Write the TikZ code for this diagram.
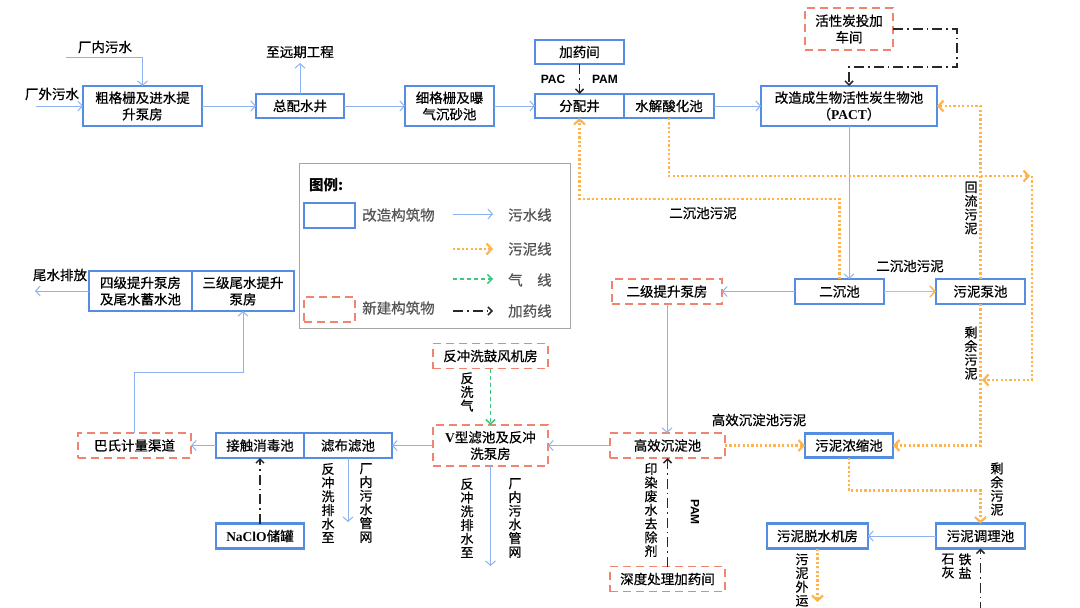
\documentclass[tikz,border=0pt]{standalone}
\usepackage{fontspec}
\setmainfont{Noto Sans CJK SC}[UprightFeatures={FakeBold=0.6}]
\newfontfamily\lat{Liberation Sans}
\newfontfamily\latserif{Liberation Serif}
\usetikzlibrary{arrows.meta}
\definecolor{bbl}{RGB}{84,141,226}
\definecolor{wblue}{RGB}{140,178,240}
\definecolor{sor}{RGB}{255,180,75}
\definecolor{nred}{RGB}{240,132,112}
\definecolor{gas}{RGB}{60,200,130}
\definecolor{dose}{RGB}{40,40,40}
\definecolor{legtxt}{RGB}{85,85,85}
\newcommand\bx{\fontsize{13.5}{16.5}\selectfont}
\newcommand\vx{\fontsize{13}{13.7}\selectfont}
\newcommand\lx{\fontsize{14.5}{16}\selectfont}
\tikzset{
 oldbox/.style={draw=bbl, line width=2.4pt, fill=white, inner sep=0pt, outer sep=0pt, align=center, font=\bx},
 newbox/.style={oldbox, draw=nred, line width=1.9pt, dash pattern=on 8pt off 5pt},
 lbl/.style={font=\bx, inner sep=0pt, align=center},
 vlbl/.style={font=\vx, inner sep=0pt, align=center},
 lgtx/.style={font=\lx, text=legtxt, inner sep=0pt, anchor=west},
 latb/.style={font={\lat\bfseries\fontsize{12}{14}\selectfont}, inner sep=0pt},
 warr/.style={draw=wblue, line width=1pt, -{Straight Barb[length=4.5pt,width=10pt]}},
 sline/.style={draw=sor, line width=2.2pt, dash pattern=on 2.2pt off 2.2pt},
 sarr/.style={sline, -{Straight Barb[length=5pt,width=11pt]}},
 ssolid/.style={draw=sor, line width=1.5pt, -{Straight Barb[length=5pt,width=11pt]}},
 gline/.style={draw=gas, line width=1.5pt, dash pattern=on 4pt off 3pt, -{Straight Barb[length=4.5pt,width=9pt]}},
 dline/.style={draw=dose, line width=1.5pt, dash pattern=on 10pt off 4pt on 1.5pt off 4pt, -{Straight Barb[length=4pt,width=8pt]}}
}
\begin{document}
\begin{tikzpicture}[x=1pt,y=-1pt]
\useasboundingbox (0,0) rectangle (1080,608);
\fill[white] (0,0) rectangle (1080,608);

% legend
\node[draw=gray!70, line width=0.8pt, minimum width=271, minimum height=165, inner sep=0pt] (leg) at (434.5,245.5) {};
\node[font={\bfseries\fontsize{14.5}{16}\selectfont}, anchor=west, inner sep=0pt] (lgt) at (309,185) {图例:};
\node[oldbox, minimum width=51, minimum height=25] (lg1) at (329.5,215.5) {};
\node[lgtx] (lg1t) at (362,215) {改造构筑物};
\node[newbox, minimum width=51, minimum height=25] (lg2) at (329.5,309.5) {};
\node[lgtx] (lg2t) at (362,308) {新建构筑物};
\coordinate (la1) at (453,214); \coordinate (lb1) at (493,214);
\coordinate (la2) at (453,249); \coordinate (lb2) at (493,249);
\coordinate (la3) at (453,279); \coordinate (lb3) at (493,279);
\coordinate (la4) at (453,311); \coordinate (lb4) at (493,311);
\draw[warr] (la1) -- (lb1);
\draw[sarr] (la2) -- (lb2);
\draw[gline] (la3) -- (lb3);
\draw[dline] (la4) -- (lb4);
\node[lgtx] (lt1) at (508,215) {污水线};
\node[lgtx] (lt2) at (508,249) {污泥线};
\node[lgtx] (lt3) at (508,280) {气\quad 线};
\node[lgtx] (lt4) at (508,311) {加药线};

% boxes
\node[oldbox, minimum width=119, minimum height=40] (cgs) at (142.5,106) {粗格栅及进水提\\升泵房};
\node[oldbox, minimum width=88, minimum height=24] (zps) at (300,106) {总配水井};
\node[oldbox, minimum width=89, minimum height=40] (xgs) at (449.5,106) {细格栅及曝\\气沉砂池};
\node[oldbox, minimum width=89, minimum height=24] (jyj) at (579.5,52) {加药间};
\node[oldbox, minimum width=89, minimum height=24] (fpj) at (579.5,106) {分配井};
\node[oldbox, minimum width=90, minimum height=24] (sjs) at (669,106) {水解酸化池};
\node[oldbox, minimum width=176, minimum height=40] (pact) at (849,106) {改造成生物活性炭生物池\\（{\latserif\bfseries PACT}）};
\node[newbox, minimum width=88, minimum height=42] (hxt) at (849,29) {活性炭投加\\车间};
\node[oldbox, minimum width=103, minimum height=40] (sj4) at (140.5,291) {四级提升泵房\\及尾水蓄水池};
\node[oldbox, minimum width=102, minimum height=40] (sj3) at (243,291) {三级尾水提升\\泵房};
\node[newbox, minimum width=110, minimum height=25] (ejt) at (667,291.5) {二级提升泵房};
\node[oldbox, minimum width=89, minimum height=25] (ecc) at (839.5,291.5) {二沉池};
\node[oldbox, minimum width=89, minimum height=25] (wnb) at (980.5,291.5) {污泥泵池};
\node[newbox, minimum width=115, minimum height=25] (fgf) at (490.5,356) {反冲洗鼓风机房};
\node[newbox, minimum width=115, minimum height=41] (vlc) at (490.5,445.5) {{\latserif\bfseries V}型滤池及反冲\\洗泵房};
\node[newbox, minimum width=115, minimum height=25] (gxc) at (667.5,445.5) {高效沉淀池};
\node[oldbox, minimum width=88, minimum height=24] (wnn) at (849,445.5) {污泥浓缩池};
\node[newbox, minimum width=113, minimum height=25] (bsq) at (134.5,445.5) {巴氏计量渠道};
\node[oldbox, minimum width=88, minimum height=25] (jcx) at (260,445.5) {接触消毒池};
\node[oldbox, minimum width=88, minimum height=25] (lbc) at (348,445.5) {滤布滤池};
\node[oldbox, minimum width=88, minimum height=25] (ncl) at (260,536) {{\latserif\bfseries NaClO}储罐};
\node[newbox, minimum width=115, minimum height=25] (sdj) at (667.5,579) {深度处理加药间};
\node[oldbox, minimum width=101, minimum height=25] (tsj) at (817.5,536) {污泥脱水机房};
\node[oldbox, minimum width=89, minimum height=25] (tlc) at (980.5,536) {污泥调理池};

% connectors
\coordinate (cnin) at (66,57);
\draw[warr] (cnin) -| (cgs.north);
\coordinate (cwin) at (36,106);
\draw[warr] (cwin) -- (cgs.west);
\draw[warr] (cgs.east) -- (zps.west);
\coordinate (yq) at (300,63);
\draw[warr] (zps.north) -- (yq);
\draw[warr] (zps.east) -- (xgs.west);
\draw[warr] (xgs.east) -- (fpj.west);
\draw[dline] (jyj.south) -- (fpj.north);
\draw[warr] (sjs.east) -- (pact.west);
\draw[dline] (hxt.east) -- ++(64,0) -- ++(0,38) -| (pact.north);
\draw[warr] (pact.south) -- (pact.south |- ecc.north);
\draw[sarr] (ecc.north) -- ++(0,-80) -| (fpj.south);
\coordinate (r1) at (1030,176);
\draw[sarr] (sjs.south) |- (r1);
\coordinate (r2) at (1032,176);
\coordinate (r3) at (982,380);
\draw[sarr] (r2) |- (r3);
\draw[sarr] (wnb.north) |- (pact.east);
\draw[ssolid] (ecc.east) -- (wnb.west);
\draw[warr] (ecc.west) -- (ejt.east);
\draw[warr] (ejt.south) -- (ejt.south |- gxc.north);
\draw[sarr] (wnb.south) |- (wnn.east);
\draw[sarr] (gxc.east) -- (wnn.west);
\draw[sarr] (wnn.south) -- ++(0,33) -| (tlc.north);
\draw[warr] (tlc.west) -- (tsj.east);
\coordinate (wy) at (817.5,602);
\draw[sarr] (tsj.south) -- (wy);
\coordinate (tl0) at (980.5,612);
\draw[dline] (tl0) -- (tlc.south);
\draw[warr] (gxc.west) -- (vlc.east);
\draw[dline] (sdj.north) -- (gxc.south);
\draw[gline] (fgf.south) -- (vlc.north);
\coordinate (vd) at (490.5,566);
\draw[warr] (vlc.south) -- (vd);
\draw[warr] (vlc.west) -- (lbc.east);
\coordinate (ld) at (348,522);
\draw[warr] (lbc.south) -- (ld);
\draw[warr] (jcx.west) -- (bsq.east);
\draw[dline] (ncl.north) -- (jcx.south);
\draw[warr] (bsq.north) -- ++(0,-61) -| (sj3.south);
\coordinate (wp) at (35,291);
\draw[warr] (sj4.west) -- (wp);

% labels
\node[lbl] (t1) at (105,47) {厂内污水};
\node[lbl] (t2) at (52,94) {厂外污水};
\node[lbl] (t3) at (300,52) {至远期工程};
\node[latb] (t4) at (553,79) {PAC};
\node[latb] (t5) at (605,79) {PAM};
\node[lbl] (t6) at (703,213) {二沉池污泥};
\node[lbl] (t7) at (910,266) {二沉池污泥};
\node[vlbl] (t8) at (971,208) {回\\流\\污\\泥};
\node[vlbl] (t9) at (971,353) {剩\\余\\污\\泥};
\node[lbl] (t10) at (759,420) {高效沉淀池污泥};
\node[vlbl] (t11) at (997,489) {剩\\余\\污\\泥};
\node[vlbl] (t12) at (948,566) {石\\灰};
\node[vlbl] (t13) at (965,566) {铁\\盐};
\node[vlbl] (t14) at (802,580) {污\\泥\\外\\运};
\node[vlbl] (t15) at (651,510) {印\\染\\废\\水\\去\\除\\剂};
\node[latb, rotate=-90] (t16) at (695,512) {PAM};
\node[vlbl] (t17) at (467,392) {反\\洗\\气};
\node[vlbl] (t18) at (467,518) {反\\冲\\洗\\排\\水\\至};
\node[vlbl] (t19) at (515,518) {厂\\内\\污\\水\\管\\网};
\node[vlbl] (t20) at (328,503) {反\\冲\\洗\\排\\水\\至};
\node[vlbl] (t21) at (366,503) {厂\\内\\污\\水\\管\\网};
\node[lbl] (t22) at (60,275) {尾水排放};
\end{tikzpicture}
\end{document}
